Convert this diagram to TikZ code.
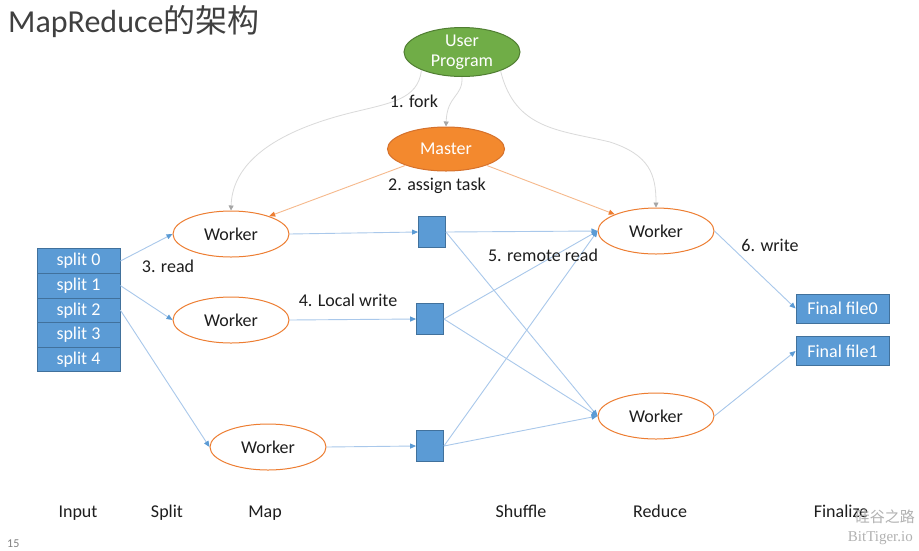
\documentclass[tikz,border=0pt]{standalone}
\usepackage{fontspec}
\setmainfont{Carlito}
\newfontfamily\cjk{Noto Sans CJK SC}
\newfontfamily\wmserif{Liberation Serif}
\usetikzlibrary{shapes.geometric,arrows.meta}
\definecolor{bfill}{HTML}{5B9BD5}
\definecolor{bdraw}{HTML}{41719C}
\definecolor{bline}{HTML}{A9C8EB}
\definecolor{ofill}{HTML}{F3892E}
\definecolor{odraw}{HTML}{ED7D31}
\definecolor{oline}{HTML}{F6B98C}
\definecolor{gfill}{HTML}{70AD47}
\definecolor{gdraw}{HTML}{507E32}
\definecolor{gline}{HTML}{DADADA}
\definecolor{txt}{HTML}{1E1E1E}
\tikzset{
  base/.style={font=\fontsize{18}{22}\selectfont, text=txt},
  ell/.style={base, ellipse, minimum width=116pt, minimum height=46pt, inner sep=0pt, line width=1pt},
  worker/.style={ell, draw=odraw, fill=white},
  boxsq/.style={rectangle, draw=bdraw, fill=bfill, minimum width=27pt, minimum height=31pt, inner sep=0pt, line width=0.8pt},
  splitbox/.style={base, rectangle, draw=bdraw, fill=bfill, text=white, minimum width=83pt, minimum height=24.6pt, inner sep=0pt, line width=0.8pt},
  filebox/.style={base, rectangle, draw=bdraw, fill=bfill, text=white, minimum width=93pt, minimum height=29pt, inner sep=0pt, line width=0.8pt},
  lbl/.style={base, anchor=base},
  barrow/.style={draw=bline, line width=0.9pt, -{Triangle[length=6pt,width=5pt,color=bfill]}},
  oarrow/.style={draw=oline, line width=0.9pt, -{Triangle[length=6pt,width=5pt,color=odraw]}},
  garrow/.style={draw=gline, line width=0.8pt, -{Triangle[length=5pt,width=5pt,color=gray!70]}},
}
\begin{document}
\begin{tikzpicture}[x=1pt,y=-1pt]
\useasboundingbox[fill=white] (0,0) rectangle (919,550);
% title
\node[anchor=base west, inner sep=0pt, text=txt!85!white, font=\fontsize{32}{36}\selectfont] (title) at (8,32) {MapReduce{\cjk 的架构}};
% top nodes
\node[ell, draw=gdraw, fill=gfill, text=white, align=center, minimum width=116pt, minimum height=44pt] (up) at (462,52) {User\\[-2pt]Program};
\node[ell, draw=odraw!90!black, fill=ofill, text=white, minimum width=117pt, minimum height=44pt] (master) at (446,149) {Master};
% workers
\node[worker] (w1) at (231,234) {Worker};
\node[worker] (w2) at (231,320) {Worker};
\node[worker] (w3) at (268,447) {Worker};
\node[worker] (r1) at (656,231) {Worker};
\node[worker] (r2) at (656,416) {Worker};
% intermediate boxes
\node[boxsq] (b1) at (432,232) {};
\node[boxsq] (b2) at (430,319) {};
\node[boxsq] (b3) at (430,446) {};
% splits
\node[splitbox] (s0) at (78.5,261) {split 0};
\node[splitbox] (s1) at (78.5,285.6) {split 1};
\node[splitbox] (s2) at (78.5,310.2) {split 2};
\node[splitbox] (s3) at (78.5,334.8) {split 3};
\node[splitbox] (s4) at (78.5,359.4) {split 4};
% final files
\node[filebox] (f0) at (842.5,308.5) {Final file0};
\node[filebox] (f1) at (842.5,351) {Final file1};
% fork curves
\draw[garrow] (up.204) .. controls (418,100) and (390,103) .. (350,113) .. controls (262,135) and (232,170) .. (w1.north);
\draw[garrow] (up.270) .. controls (463,97) and (447,95) .. (master.north);
\draw[garrow] (up.334) .. controls (515,130) and (560,130) .. (610,142) .. controls (650,155) and (656,175) .. (r1.north);
% assign
\draw[oarrow] (master.202) -- (w1.25);
\draw[oarrow] (master.338) -- (r1.158);
% read
\draw[barrow] (s0.east) -- (w1.west);
\draw[barrow] (s1.east) -- (w2.west);
\draw[barrow] (s2.east) -- (w3.west);
% local write
\draw[barrow] (w1.east) -- (b1.west);
\draw[barrow] (w2.east) -- (b2.west);
\draw[barrow] (w3.east) -- (b3.west);
% shuffle
\draw[barrow] (b1.east) -- (r1.west);
\draw[barrow] (b1.east) -- (r2.west);
\draw[barrow] (b2.east) -- (r1.west);
\draw[barrow] (b2.east) -- (r2.west);
\draw[barrow] (b3.east) -- (r1.west);
\draw[barrow] (b3.east) -- (r2.west);
% write
\draw[barrow] (r1.east) -- (f0.west);
\draw[barrow] (r2.east) -- (f1.west);
% labels
\node[lbl] (l1) at (414,107) {1. fork};
\node[lbl] (l2) at (437,190) {2. assign task};
\node[lbl] (l3) at (168,272) {3. read};
\node[lbl] (l4) at (348,306) {4. Local write};
\node[lbl] (l5) at (543,261) {5. remote read};
\node[lbl] (l6) at (770,251) {6. write};
% bottom
\node[lbl] (c1) at (78,517) {Input};
\node[lbl] (c2) at (167,517) {Split};
\node[lbl] (c3) at (265,517) {Map};
\node[lbl] (c4) at (521,517) {Shuffle};
\node[lbl] (c5) at (660,517) {Reduce};
\node[lbl] (c6) at (841,517) {Finalize};
\node[anchor=base west, inner sep=0pt, text=gray, font=\fontsize{12}{13}\selectfont] (pg) at (7,547) {15};
\node[anchor=base east, inner sep=0pt, text=gray!60, font=\cjk\fontsize{15}{16}\selectfont] (wm1) at (915,522) {硅谷之路};
\node[anchor=base east, inner sep=0pt, text=gray!60, font=\wmserif\fontsize{15}{16}\selectfont] (wm2) at (913,541) {BitTiger.io};
\end{tikzpicture}
\end{document}
